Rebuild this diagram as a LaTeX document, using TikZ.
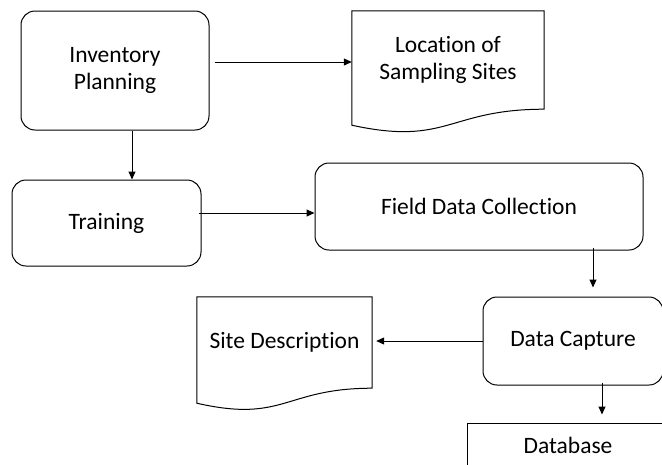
\documentclass[tikz,border=0pt]{standalone}
\usepackage{fontspec}
\setmainfont{Carlito}[Ligatures=NoCommon]
\usetikzlibrary{arrows.meta,calc}

\tikzset{
  box/.style={draw, rounded corners=14pt, line width=1pt, inner sep=0pt,
    align=center, font=\fontsize{23.5}{27.5}\selectfont},
  doc/.style={inner sep=0pt, align=center, font=\fontsize{23.5}{27.5}\selectfont},
  plainbox/.style={draw, line width=1pt, inner sep=0pt,
    font=\fontsize{23.5}{27.5}\selectfont},
  flow/.style={->, line width=1pt},
}

% document outline: #2 lower control, #3 drop at the left
\newcommand{\docoutline}[3]{%
  \draw[line width=1pt] (#1.north west) -- (#1.north east) -- (#1.south east)
    .. controls (#1.south) and ([yshift=-#2]#1.south) .. ([yshift=-#3]#1.south west) -- cycle;}

\begin{document}
\begin{tikzpicture}[x=1pt, y=-1pt, >={Triangle[length=8pt,width=7pt]}]
  \useasboundingbox (0,0) rectangle (662,464);
  \clip (0,0) rectangle (662,464);

  % process steps
  \node[box, minimum width=188pt, minimum height=119pt] (inv) at (115,70.5) {Inventory\\Planning};
  \node[box, minimum width=189pt, minimum height=86pt] (train) at (106.5,223) {Training};
  \node[box, minimum width=328pt, minimum height=87pt] (field) at (479,206.5) {Field Data Collection};
  \node[box, minimum width=180pt, minimum height=88pt] (cap) at (573,341) {Data Capture};

  % documents
  \node[doc, minimum width=192pt, minimum height=98pt] (loc) at (448,60) {Location of\\Sampling Sites};
  \docoutline{loc}{37pt}{16pt}
  \node[doc, minimum width=175pt, minimum height=91pt] (site) at (284.5,342.5) {Site Description};
  \docoutline{site}{35pt}{15pt}

  \node[plainbox, minimum width=202pt, minimum height=44pt] (db) at (568,445) {Database};

  % connectors
  \draw[flow] ($(inv.east |- loc.west)+(5pt,-2pt)$) -- ($(loc.west)+(0pt,-2pt)$);
  \draw[flow] ($(inv.south)+(17pt,0pt)$) -- ($(inv.south |- train.north)+(17pt,0pt)$);
  \draw[flow] ($(train.east)+(-3pt,10pt)$) -- ($(train.east -| field.west)+(0pt,10pt)$);
  \draw[flow] ($(field.south)+(114pt,3pt)$) -- ($(field.south |- cap.north)+(114pt,9pt)$);
  \draw[flow] (cap.west) -- ($(site.east |- cap.west)+(4pt,0pt)$);
  \draw[flow] ($(cap.south)+(29pt,3pt)$) -- ($(cap.south |- db.north)+(29pt,8pt)$);
\end{tikzpicture}
\end{document}
